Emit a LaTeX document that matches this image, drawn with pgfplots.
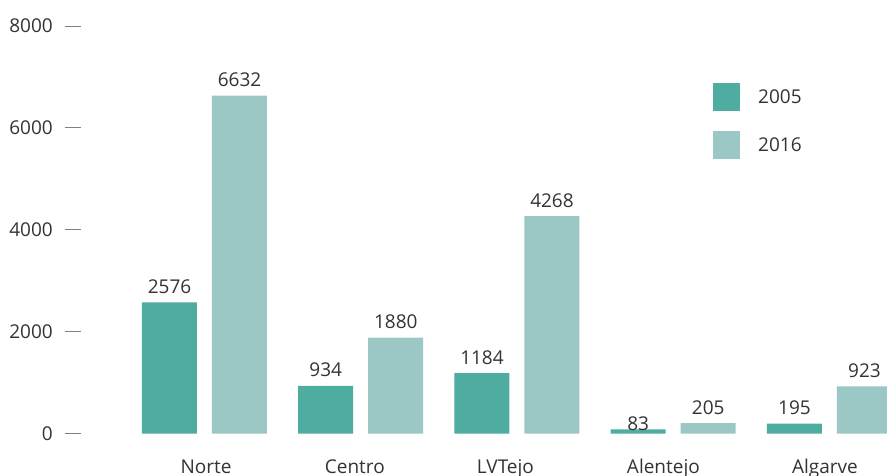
\documentclass[border=0pt]{standalone}
\usepackage{fontspec}
\setmainfont{Open Sans}
\usepackage{pgfplots}
\pgfplotsset{compat=1.18}
\definecolor{darkteal}{HTML}{4FACA1}
\definecolor{lightteal}{HTML}{9BC8C4}
\definecolor{txt}{HTML}{333333}
\definecolor{tickgray}{HTML}{808080}

% x, value, label offset above bar (pt)
\pgfplotstableread{
x y dy
0 2576 9
1 934 9
2 1184 9
3 83 -1
4 195 9
}\first
\pgfplotstableread{
x y dy
0 6632 9
1 1880 9
2 4268 9
3 205 9
4 923 9
}\second

\newcommand{\lbl}{\fontsize{19}{23}\selectfont}

\begin{document}
\begin{tikzpicture}
\useasboundingbox (0pt,0pt) rectangle (887pt,475pt);
\begin{axis}[
    at={(81pt,41.5pt)}, anchor=south west,
    scale only axis, width=826.6pt, height=407.5pt,
    xmin=-0.7904, xmax=4.5, ymin=0, ymax=8000,
    clip=false,
    axis line style={draw=none},
    tick pos=left,
    xtick={0.01,0.962,1.926,2.937,3.971},
    xticklabels={Norte,Centro,LVTejo,Alentejo,Algarve},
    xtick style={draw=none},
    xticklabel style={anchor=base, yshift=-23.5pt},
    ytick={0,2000,4000,6000,8000},
    scaled y ticks=false,
    tick align=outside,
    major tick length=16pt,
    ytick style={draw=tickgray, line width=1pt},
    yticklabel style={inner sep=0pt, xshift=-12pt},
    tick label style={font=\lbl, text=txt},
    /pgf/number format/assume math mode=true,
    /pgf/number format/1000 sep={},
    ybar, bar width=55pt,
    nodes near coords,
    nodes near coords style={font=\lbl, text=txt, anchor=base, yshift=\dy pt},
    legend style={draw=none, fill=none, at={(0.7646,0.8609)}, anchor=north west,
        inner sep=0pt, row sep=20.1pt, column sep=16pt, font=\lbl, text=txt},
    legend cell align=left,
]
\addplot[fill=darkteal, draw=none, bar shift=-35pt,
    visualization depends on={\thisrow{dy} \as \dy},
    legend image code/.code={\fill[darkteal] (0pt,-14pt) rectangle (27pt,14pt);}]
    table[x=x, y=y] {\first};
\addlegendentry{2005}
\addplot[fill=lightteal, draw=none, bar shift=35pt,
    visualization depends on={\thisrow{dy} \as \dy},
    legend image code/.code={\fill[lightteal] (0pt,-14pt) rectangle (27pt,14pt);}]
    table[x=x, y=y] {\second};
\addlegendentry{2016}
\end{axis}
\end{tikzpicture}
\end{document}
